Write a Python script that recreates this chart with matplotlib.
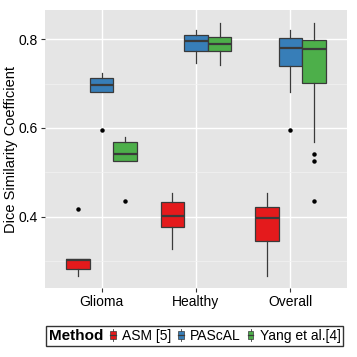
import matplotlib.pyplot as plt
from matplotlib.patches import Rectangle
from matplotlib.lines import Line2D
from matplotlib.legend_handler import HandlerBase

plt.rcParams['font.family'] = ['Liberation Sans', 'DejaVu Sans']

groups = ['Glioma', 'Healthy', 'Overall']
methods = ['ASM [5]', 'PAScAL', 'Yang et al.[4]']
colors = ['#E41A1C', '#377EB8', '#4DAF4A']

# box stats per method, one entry per group: whisker low, q1, median, q3, whisker high
asm_low = [0.266, 0.328, 0.266]
asm_q1 = [0.283, 0.376, 0.345]
asm_med = [0.302, 0.402, 0.396]
asm_q3 = [0.305, 0.434, 0.421]
asm_high = [0.305, 0.453, 0.453]
asm_fliers = [[0.418], [], []]

pas_low = [0.681, 0.747, 0.682]
pas_q1 = [0.681, 0.773, 0.740]
pas_med = [0.698, 0.796, 0.780]
pas_q3 = [0.713, 0.810, 0.802]
pas_high = [0.723, 0.821, 0.821]
pas_fliers = [[0.595], [], [0.595]]

yang_low = [0.526, 0.742, 0.568]
yang_q1 = [0.526, 0.774, 0.701]
yang_med = [0.542, 0.789, 0.779]
yang_q3 = [0.568, 0.805, 0.798]
yang_high = [0.580, 0.836, 0.836]
yang_fliers = [[0.435], [], [0.542, 0.526, 0.435]]

stats_by_method = [
    (asm_low, asm_q1, asm_med, asm_q3, asm_high, asm_fliers),
    (pas_low, pas_q1, pas_med, pas_q3, pas_high, pas_fliers),
    (yang_low, yang_q1, yang_med, yang_q3, yang_high, yang_fliers),
]

fig = plt.figure(figsize=(3.57, 3.57), dpi=100)
ax = fig.add_axes([0.126, 0.193, 0.846, 0.779])
ax.set_facecolor('#E5E5E5')

edge = '#3A3A3A'
for m, (lo, q1, med, q3, hi, fl) in enumerate(stats_by_method):
    stats = []
    for g in range(len(groups)):
        stats.append(dict(whislo=lo[g], q1=q1[g], med=med[g], q3=q3[g],
                          whishi=hi[g], fliers=fl[g]))
    pos = [g + 1 + (m - 1) * 0.25 for g in range(len(groups))]
    ax.bxp(stats, positions=pos, widths=0.25, patch_artist=True,
           showcaps=False, manage_ticks=False,
           boxprops=dict(facecolor=colors[m], edgecolor=edge, linewidth=0.9),
           medianprops=dict(color=edge, linewidth=1.6),
           whiskerprops=dict(color=edge, linewidth=0.9),
           flierprops=dict(marker='o', markersize=2.2, markerfacecolor='black',
                           markeredgecolor='black'))

ax.set_xlim(0.4, 3.6)
ax.set_ylim(0.239, 0.866)
ax.set_xticks([1, 2, 3])
ax.set_xticklabels(groups)
ax.set_yticks([0.4, 0.6, 0.8])
ax.set_yticks([0.3, 0.5, 0.7], minor=True)
ax.grid(which='major', color='white', linewidth=1.0)
ax.grid(which='minor', axis='y', color='#F2F2F2', linewidth=0.5)
ax.set_axisbelow(True)
for s in ax.spines.values():
    s.set_visible(False)
ax.tick_params(axis='both', which='major', length=3, color='#333333',
               labelsize=10, labelcolor='black', pad=2)
ax.tick_params(axis='y', which='minor', length=0)
ax.set_ylabel('Dice Similarity Coefficient', fontsize=10.5)
ax.yaxis.set_label_coords(-0.088, 0.5)


class BoxKey(HandlerBase):
    def create_artists(self, legend, orig, xd, yd, width, height, fontsize, trans):
        w = width * 0.5
        x0 = xd + (width - w) / 2
        rect = Rectangle((x0, yd + height * 0.1), w, height * 0.8,
                         facecolor=orig.get_facecolor(), edgecolor=edge,
                         linewidth=0.5, transform=trans)
        cx = xd + width / 2
        wl = Line2D([cx, cx], [yd - height * 0.15, yd + height * 1.15],
                    color=edge, linewidth=0.6, transform=trans)
        ml = Line2D([x0, x0 + w], [yd + height / 2] * 2, color=edge,
                    linewidth=0.9, transform=trans)
        return [wl, rect, ml]


handles = [Rectangle((0, 0), 1, 1, facecolor=c) for c in colors]
leg = fig.legend(handles, methods, loc='center', bbox_to_anchor=(0.5455, 0.0594),
                 ncol=3, title='Method', fontsize=10, frameon=True, fancybox=False,
                 edgecolor='black', handlelength=0.8, handleheight=0.7,
                 handletextpad=0.25, columnspacing=0.12, borderpad=0.2,
                 handler_map={Rectangle: BoxKey()})
leg.get_frame().set_linewidth(1.0)
leg.get_title().set_fontweight('bold')
leg.get_title().set_fontsize(11)
# put title on the left of the keys
box = leg.get_children()[0]
title_box = box.get_children()[0]
hpack = box.get_children()[1]
box._children = [hpack]
hpack._children.insert(0, title_box)
hpack.sep = 3

fig.savefig('out.png', dpi=100)
